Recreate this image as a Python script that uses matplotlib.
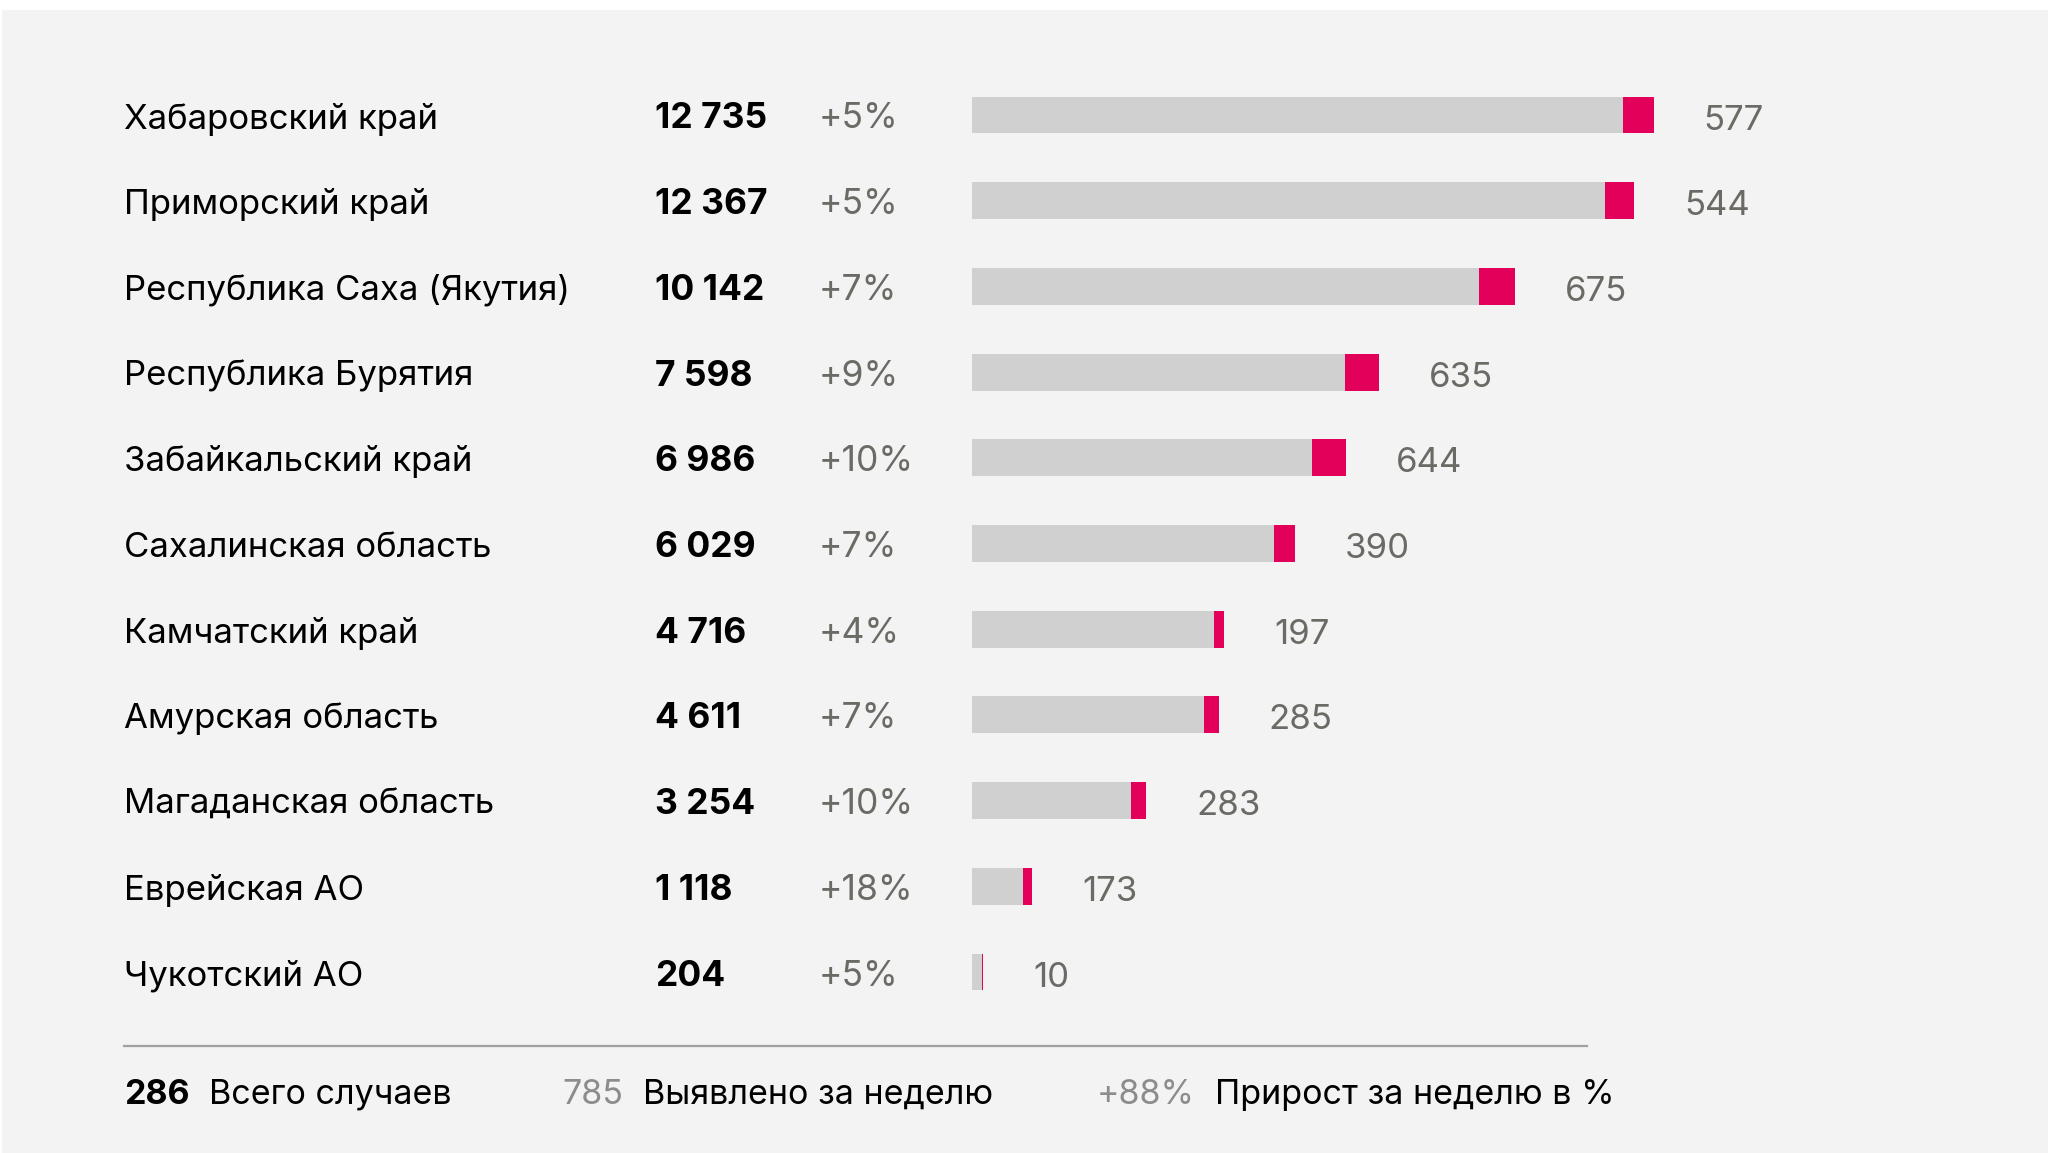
import matplotlib.pyplot as plt
import matplotlib.transforms as mtransforms
from matplotlib.lines import Line2D
from matplotlib.patches import Rectangle

# --- datos ---
regiones = ['Хабаровский край', 'Приморский край', 'Республика Саха (Якутия)',
            'Республика Бурятия', 'Забайкальский край', 'Сахалинская область',
            'Камчатский край', 'Амурская область', 'Магаданская область',
            'Еврейская АО', 'Чукотский АО']
total = [12735, 12367, 10142, 7598, 6986, 6029, 4716, 4611, 3254, 1118, 204]
total_txt = ['12 735', '12 367', '10 142', '7 598', '6 986', '6 029',
             '4 716', '4 611', '3 254', '1 118', '204']
prirost = ['+5%', '+5%', '+7%', '+9%', '+10%', '+7%', '+4%', '+7%', '+10%', '+18%', '+5%']
nedelya = [577, 544, 675, 635, 644, 390, 197, 285, 283, 173, 10]

itogo = ['286', 'Всего случаев', '785', 'Выявлено за неделю', '+88%', 'Прирост за неделю в %']

plt.rcParams['font.family'] = ['Inter', 'DejaVu Sans']

GRIS = '#d0d0d0'
ROJO = '#e2005a'
GRIS_TXT = '#6b6a65'
FONDO = '#f3f3f3'

W, H = 2048, 1153
fig = plt.figure(figsize=(W / 100, H / 100), dpi=100)
fig.patch.set_facecolor('white')
fig.add_artist(Rectangle((2 / W, 0), 1, 1 - 10 / H, transform=fig.transFigure,
                         facecolor=FONDO, edgecolor='none', zorder=0))

ax = fig.add_axes([972 / W, 0, 1 - 972 / W, 1])
ax.set_facecolor('none')
n = len(regiones)
filas = list(range(n))
paso = 85.7
ax.set_ylim((H - 115) / paso, -115 / paso)
ax.set_xlim(0, 20100)
ax.axis('off')

base = [t - v for t, v in zip(total, nedelya)]
ax.barh(filas, base, height=0.43, color=GRIS, zorder=2)
ax.barh(filas, nedelya, left=base, height=0.43, color=ROJO, zorder=2)

for i in filas:
    ax.annotate(str(nedelya[i]), xy=(total[i], i), xytext=(36, -4),
                textcoords='offset points', va='center', ha='left',
                fontsize=25, color=GRIS_TXT)

tr = mtransforms.blended_transform_factory(fig.transFigure, ax.transData)
tr = mtransforms.offset_copy(tr, fig=fig, x=0, y=-4, units='dots')
for i in filas:
    ax.text(124 / W, i, regiones[i], transform=tr, va='center', ha='left',
            fontsize=25, color='black')
    ax.text(655 / W, i, total_txt[i], transform=tr, va='center', ha='left',
            fontsize=25.5, color='black', weight='bold')
    ax.text(819 / W, i, prirost[i], transform=tr, va='center', ha='left',
            fontsize=25.5, color=GRIS_TXT)

# linea inferior y totales
fig.add_artist(Line2D([124 / W, 1587 / W], [1 - 1046 / H] * 2, transform=fig.transFigure,
                      color='#a0a0a0', linewidth=1.6))
yb = 1 - 1095 / H
xs = [124, 209, 562, 643, 1097, 1215]
estilos = [('black', 'bold'), ('black', 'normal'), ('#8c8c8c', 'normal'),
           ('black', 'normal'), ('#8c8c8c', 'normal'), ('black', 'normal')]
for x, t, (c, w) in zip(xs, itogo, estilos):
    fig.text(x / W, yb, t, va='center', ha='left', fontsize=24.5, color=c, weight=w)

fig.savefig('out.png', dpi=100, facecolor=fig.get_facecolor())
